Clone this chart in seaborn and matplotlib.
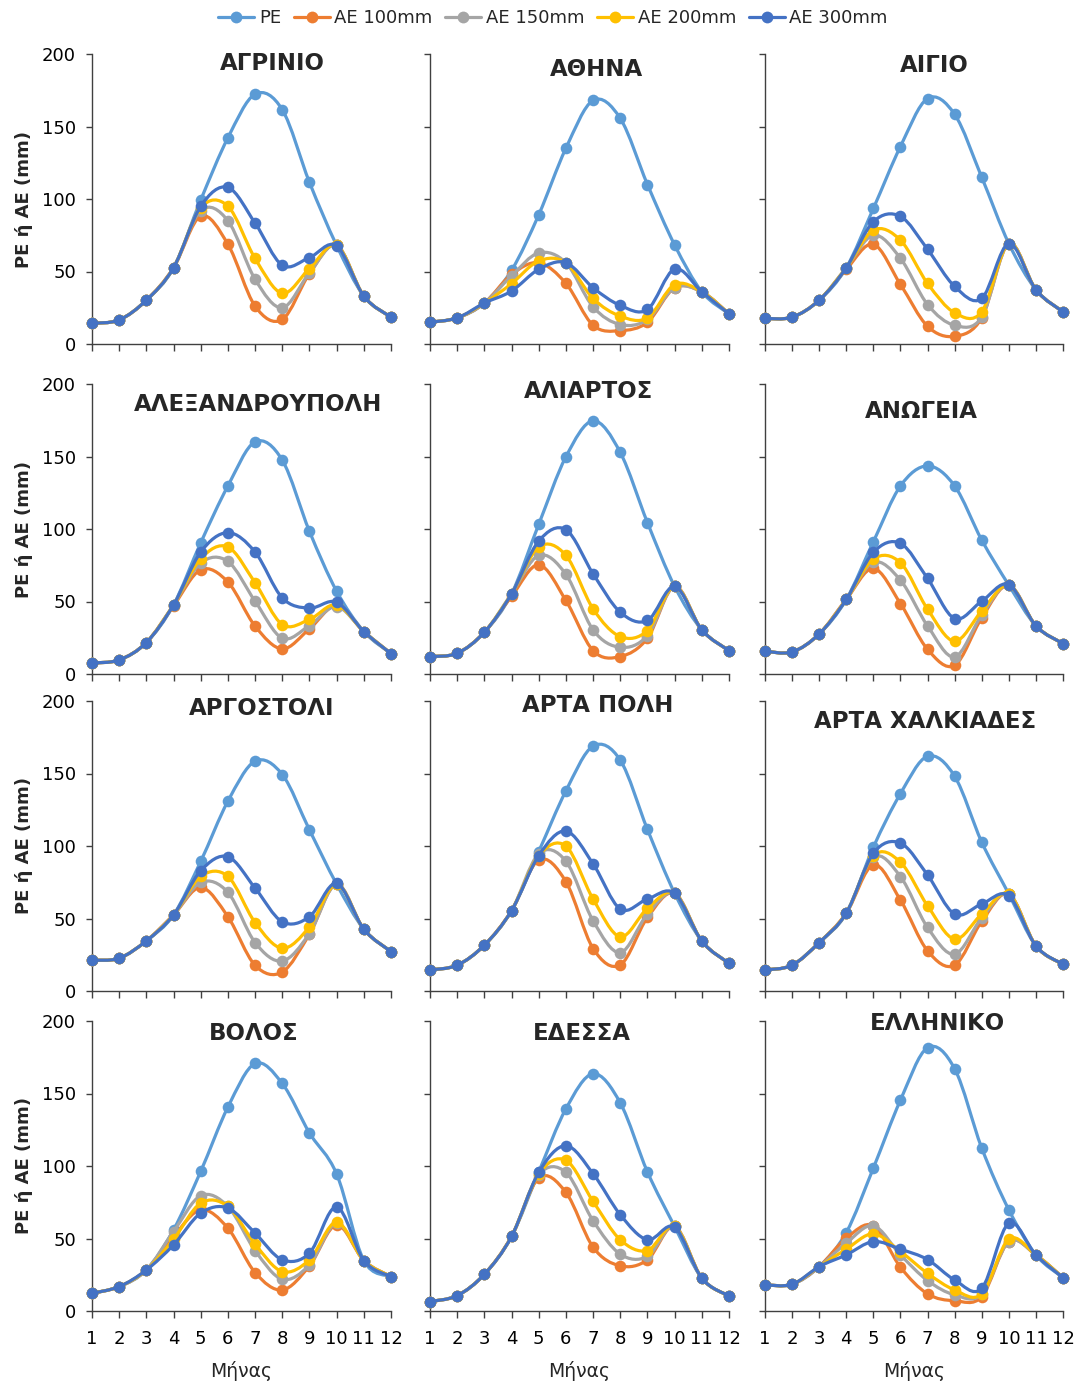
import numpy as np
import pandas as pd
import matplotlib
matplotlib.use("Agg")
import matplotlib.pyplot as plt
from matplotlib.path import Path
from matplotlib.patches import PathPatch
from matplotlib.lines import Line2D
import seaborn as sns

# ---------------------------------------------------------------------------
# Monthly potential (PE) and actual (AE) evapotranspiration, mm
# ---------------------------------------------------------------------------
months = list(range(1, 13))

stations = ["ΑΓΡΙΝΙΟ", "ΑΘΗΝΑ", "ΑΙΓΙΟ",
            "ΑΛΕΞΑΝΔΡΟΥΠΟΛΗ", "ΑΛΙΑΡΤΟΣ", "ΑΝΩΓΕΙΑ",
            "ΑΡΓΟΣΤΟΛΙ", "ΑΡΤΑ ΠΟΛΗ", "ΑΡΤΑ ΧΑΛΚΙΑΔΕΣ",
            "ΒΟΛΟΣ", "ΕΔΕΣΣΑ", "ΕΛΛΗΝΙΚΟ"]

series_names = ["PE", "AE 100mm", "AE 150mm", "AE 200mm", "AE 300mm"]

pe = [
    [14.3, 16.6, 30.2, 52.6, 99.3, 142.2, 172.3, 161.6, 111.5, 68.0, 33.0, 18.5],  # ΑΓΡΙΝΙΟ
    [15.0, 18.0, 28.2, 50.8, 89.1, 135.0, 168.0, 155.6, 110.0, 68.3, 36.0, 20.8],  # ΑΘΗΝΑ
    [17.6, 18.5, 30.2, 52.6, 93.5, 136.2, 169.3, 158.4, 115.0, 69.3, 37.4, 22.2],  # ΑΙΓΙΟ
    [7.6, 9.7, 21.7, 47.7, 90.5, 129.7, 160.1, 147.5, 98.4, 57.1, 29.3, 14.1],     # ΑΛΕΞΑΝΔΡΟΥΠΟΛΗ
    [12.0, 14.3, 28.8, 55.3, 103.2, 149.8, 174.6, 152.8, 104.4, 60.4, 30.4, 16.1], # ΑΛΙΑΡΤΟΣ
    [15.7, 15.2, 27.6, 51.4, 91.2, 129.7, 143.5, 129.7, 92.4, 61.3, 33.2, 21.0],   # ΑΝΩΓΕΙΑ
    [21.2, 22.6, 34.6, 52.5, 89.4, 130.9, 158.5, 149.3, 111.1, 73.7, 42.6, 27.2],  # ΑΡΓΟΣΤΟΛΙ
    [14.5, 17.8, 31.6, 55.4, 96.2, 138.0, 168.9, 159.2, 111.4, 67.4, 34.4, 19.1],  # ΑΡΤΑ ΠΟΛΗ
    [14.5, 17.8, 33.4, 53.7, 99.2, 136.1, 161.9, 148.1, 102.7, 66.9, 31.1, 18.5],  # ΑΡΤΑ ΧΑΛΚΙΑΔΕΣ
    [12.2, 16.8, 28.3, 56.0, 96.3, 140.6, 170.7, 156.9, 122.8, 94.5, 34.8, 23.7],  # ΒΟΛΟΣ
    [6.5, 10.6, 25.3, 51.4, 95.9, 139.4, 163.6, 143.5, 95.9, 58.3, 22.6, 10.4],    # ΕΔΕΣΣΑ
    [18.0, 18.4, 30.6, 54.1, 98.6, 145.4, 181.6, 167.1, 112.4, 69.8, 38.7, 23.0],  # ΕΛΛΗΝΙΚΟ
]

ae100 = [
    [14.3, 16.6, 30.2, 52.6, 88.2, 68.8, 26.1, 16.9, 48.5, 68.0, 33.0, 18.5],
    [15.0, 18.0, 28.2, 48.0, 56.0, 41.8, 12.9, 9.2, 15.0, 38.8, 36.0, 20.8],
    [17.6, 18.5, 30.2, 51.5, 68.8, 41.1, 12.2, 5.3, 18.0, 69.3, 37.4, 22.2],
    [7.6, 9.7, 21.7, 47.0, 71.9, 63.4, 33.0, 17.3, 31.1, 47.2, 29.3, 14.1],
    [12.0, 14.3, 28.8, 53.5, 75.3, 50.7, 16.1, 12.0, 24.7, 60.4, 30.4, 16.1],
    [15.7, 15.2, 27.6, 51.4, 72.8, 48.6, 17.0, 6.0, 38.7, 61.3, 33.2, 21.0],
    [21.2, 22.6, 34.6, 52.5, 71.4, 51.2, 17.7, 13.1, 39.2, 73.7, 42.6, 27.2],
    [14.5, 17.8, 31.6, 55.4, 90.4, 75.4, 29.3, 18.0, 50.7, 67.4, 34.4, 19.1],
    [14.5, 17.8, 33.4, 53.7, 87.0, 62.7, 27.7, 17.8, 48.0, 66.9, 31.1, 18.5],
    [12.2, 16.8, 28.3, 51.4, 69.8, 57.1, 26.5, 14.5, 31.1, 59.4, 34.8, 23.7],
    [6.5, 10.6, 25.3, 51.4, 91.7, 81.8, 44.0, 31.1, 35.3, 58.3, 22.6, 10.4],
    [18.0, 18.4, 30.6, 50.2, 58.8, 30.2, 11.8, 7.1, 9.9, 47.9, 38.7, 23.0],
]

ae150 = [
    [14.3, 16.6, 30.2, 52.6, 92.0, 85.0, 44.6, 25.0, 49.0, 68.0, 33.0, 18.5],
    [15.0, 18.0, 28.2, 47.0, 62.8, 56.0, 25.6, 13.4, 16.9, 38.8, 36.0, 20.8],
    [17.6, 18.5, 30.2, 52.6, 75.0, 59.1, 27.2, 12.9, 18.5, 69.3, 37.4, 22.2],
    [7.6, 9.7, 21.7, 47.7, 76.5, 77.6, 50.2, 24.7, 33.4, 46.5, 29.3, 14.1],
    [12.0, 14.3, 28.8, 55.3, 81.8, 68.7, 30.4, 18.4, 26.5, 60.4, 30.4, 16.1],
    [15.7, 15.2, 27.6, 51.4, 77.0, 64.7, 33.2, 11.8, 40.6, 61.3, 33.2, 21.0],
    [21.2, 22.6, 34.6, 52.5, 74.9, 68.0, 33.4, 20.7, 39.6, 73.7, 42.6, 27.2],
    [14.5, 17.8, 31.6, 55.4, 94.6, 89.5, 48.4, 26.5, 53.0, 67.4, 34.4, 19.1],
    [14.5, 17.8, 33.4, 53.7, 92.3, 78.9, 43.8, 25.4, 50.3, 66.9, 31.1, 18.5],
    [12.2, 16.8, 28.3, 54.8, 79.5, 72.1, 41.7, 21.9, 31.8, 60.6, 34.8, 23.7],
    [6.5, 10.6, 25.3, 51.4, 94.0, 95.6, 62.2, 39.2, 37.6, 58.3, 22.6, 10.4],
    [18.0, 18.4, 30.6, 46.8, 58.8, 38.7, 21.0, 11.1, 11.5, 47.9, 38.7, 23.0],
]

ae200 = [
    [14.3, 16.6, 30.2, 52.6, 94.0, 95.0, 59.0, 35.0, 52.0, 68.0, 33.0, 18.5],
    [15.0, 18.0, 28.2, 41.6, 57.3, 56.0, 31.4, 19.2, 18.0, 41.0, 36.0, 20.8],
    [17.6, 18.5, 30.2, 52.6, 78.5, 71.6, 41.8, 21.5, 22.2, 69.3, 37.4, 22.2],
    [7.6, 9.7, 21.7, 47.7, 79.5, 87.6, 62.9, 34.1, 37.6, 47.7, 29.3, 14.1],
    [12.0, 14.3, 28.8, 55.3, 87.6, 81.8, 44.9, 25.8, 30.0, 60.4, 30.4, 16.1],
    [15.7, 15.2, 27.6, 51.4, 79.3, 76.7, 44.7, 22.6, 43.3, 61.3, 33.2, 21.0],
    [21.2, 22.6, 34.6, 52.5, 79.0, 79.0, 47.2, 29.5, 44.2, 73.7, 42.6, 27.2],
    [14.5, 17.8, 31.6, 55.4, 93.4, 99.9, 63.4, 37.4, 57.0, 67.4, 34.4, 19.1],
    [14.5, 17.8, 33.4, 53.7, 93.4, 88.8, 58.8, 35.8, 53.0, 66.9, 31.1, 18.5],
    [12.2, 16.8, 28.3, 49.5, 74.4, 72.1, 46.1, 27.2, 35.3, 61.3, 34.8, 23.7],
    [6.5, 10.6, 25.3, 51.4, 94.5, 103.9, 75.6, 49.1, 41.7, 58.3, 22.6, 10.4],
    [18.0, 18.4, 30.6, 42.6, 53.2, 41.0, 26.0, 14.5, 11.8, 49.5, 38.7, 23.0],
]

ae300 = [
    [14.3, 16.6, 30.2, 52.6, 95.0, 108.0, 83.4, 54.3, 59.6, 67.7, 33.0, 18.5],
    [15.0, 18.0, 28.2, 36.5, 51.5, 56.1, 38.8, 26.6, 23.8, 51.7, 36.0, 20.8],
    [17.6, 18.5, 30.2, 52.6, 84.3, 88.0, 65.3, 39.7, 31.4, 69.3, 37.4, 22.2],
    [7.6, 9.7, 21.7, 47.7, 84.1, 97.5, 84.1, 52.5, 45.4, 49.5, 29.3, 14.1],
    [12.0, 14.3, 28.8, 55.3, 91.7, 99.5, 69.1, 42.6, 36.9, 60.4, 30.4, 16.1],
    [15.7, 15.2, 27.6, 51.4, 83.9, 90.1, 65.9, 38.2, 50.2, 61.7, 33.2, 21.0],
    [21.2, 22.6, 34.6, 52.5, 82.9, 92.6, 71.0, 47.7, 51.2, 74.2, 42.6, 27.2],
    [14.5, 17.8, 31.6, 55.4, 93.4, 110.3, 87.7, 56.5, 63.4, 67.4, 34.4, 19.1],
    [14.5, 17.8, 33.4, 53.7, 95.0, 102.0, 80.0, 53.0, 60.0, 65.7, 31.1, 18.5],
    [12.2, 16.8, 28.3, 45.6, 67.5, 71.0, 53.7, 35.3, 39.9, 71.7, 34.8, 23.7],
    [6.5, 10.6, 25.3, 51.4, 95.6, 114.0, 94.7, 66.4, 49.1, 57.8, 22.6, 10.4],
    [18.0, 18.4, 30.6, 38.7, 47.9, 42.6, 35.5, 21.4, 15.7, 60.6, 38.7, 23.0],
]

y_ticks = [0, 50, 100, 150, 200]
colors = ["#5B9BD5", "#ED7D31", "#A5A5A5", "#FFC000", "#4472C4"]

# title centres (pixels from the top-left of the figure) for each panel
title_xy = [(272, 63), (597, 69), (934, 65),
            (258, 405), (589, 392), (921, 412),
            (262, 708), (598, 706), (925, 722),
            (254, 1033), (582, 1033), (937, 1024)]

# ---------------------------------------------------------------------------
W, H = 1083, 1385
sns.set_style("ticks")
plt.rcParams["font.family"] = ["DejaVu Sans"]
fig = plt.figure(figsize=(W / 100, H / 100), dpi=100)

col_left = [92, 430, 765]
col_width = [299, 299, 298]
row_top = [54, 384, 701, 1021]
row_height = 290

all_series = [pe, ae100, ae150, ae200, ae300]


def smooth_path(x, y):
    """Bezier path through the points, with Catmull-Rom style control points."""
    pts = np.column_stack([x, y]).astype(float)
    n = len(pts)
    verts = [pts[0]]
    codes = [Path.MOVETO]
    for i in range(n - 1):
        p_prev = pts[i - 1] if i > 0 else pts[i]
        p_next = pts[i + 2] if i + 2 < n else pts[i + 1]
        c1 = pts[i] + (pts[i + 1] - p_prev) / 6.0
        c2 = pts[i + 1] - (p_next - pts[i]) / 6.0
        verts += [c1, c2, pts[i + 1]]
        codes += [Path.CURVE4] * 3
    return Path(verts, codes)


spine_color = "#404040"
for k, name in enumerate(stations):
    r, c = divmod(k, 3)
    ax = fig.add_axes([col_left[c] / W, 1 - (row_top[r] + row_height) / H,
                       col_width[c] / W, row_height / H])
    for s_idx, (sname, col) in enumerate(zip(series_names, colors)):
        vals = all_series[s_idx][k]
        df = pd.DataFrame({"month": months, "value": vals})
        patch = PathPatch(smooth_path(df["month"], df["value"]), facecolor="none",
                          edgecolor=col, lw=2.3, zorder=3 + 2 * s_idx,
                          clip_on=False, capstyle="round", joinstyle="round")
        ax.add_patch(patch)
        sns.scatterplot(data=df, x="month", y="value", ax=ax, color=col, s=70,
                        linewidth=0, zorder=4 + 2 * s_idx, clip_on=False,
                        legend=False)

    ax.set_xlim(1, 12)
    ax.set_ylim(0, 200)
    ax.set_xticks(months)
    ax.set_yticks(y_ticks)
    sns.despine(ax=ax)
    for side in ("left", "bottom"):
        ax.spines[side].set_color(spine_color)
        ax.spines[side].set_linewidth(1.0)
    ax.tick_params(axis="both", colors=spine_color, labelcolor="black",
                   direction="out", width=1.0)
    ax.tick_params(axis="y", length=4.5, pad=7, labelsize=13)
    ax.tick_params(axis="x", length=5, pad=9, labelsize=13)
    if c != 0:
        ax.set_yticklabels([])
        ax.set_ylabel("")
    else:
        ax.set_ylabel("PE ή AE (mm)", fontsize=13, fontweight="bold")
        ax.yaxis.set_label_coords(-0.197, 0.5)
    if r != 3:
        ax.set_xticklabels([])
        ax.set_xlabel("")
    else:
        ax.set_xlabel("Μήνας", fontsize=13.5, color="#262626")
        ax.xaxis.set_label_coords(0.5, -0.172)
    tx, ty = title_xy[k]
    fig.text(tx / W, 1 - ty / H, name, ha="center", va="center",
             fontsize=16.5, fontweight="bold")

handles = [Line2D([0], [0], color=col, lw=2.3, marker="o", markersize=8.5,
                  markeredgewidth=0) for col in colors]
fig.legend(handles, series_names, loc="center", bbox_to_anchor=(553 / W, 1 - 18 / H),
           ncol=5, frameon=False, fontsize=13, handlelength=2.0,
           handletextpad=0.25, columnspacing=0.7, borderaxespad=0)

fig.savefig("out.png", dpi=100)
